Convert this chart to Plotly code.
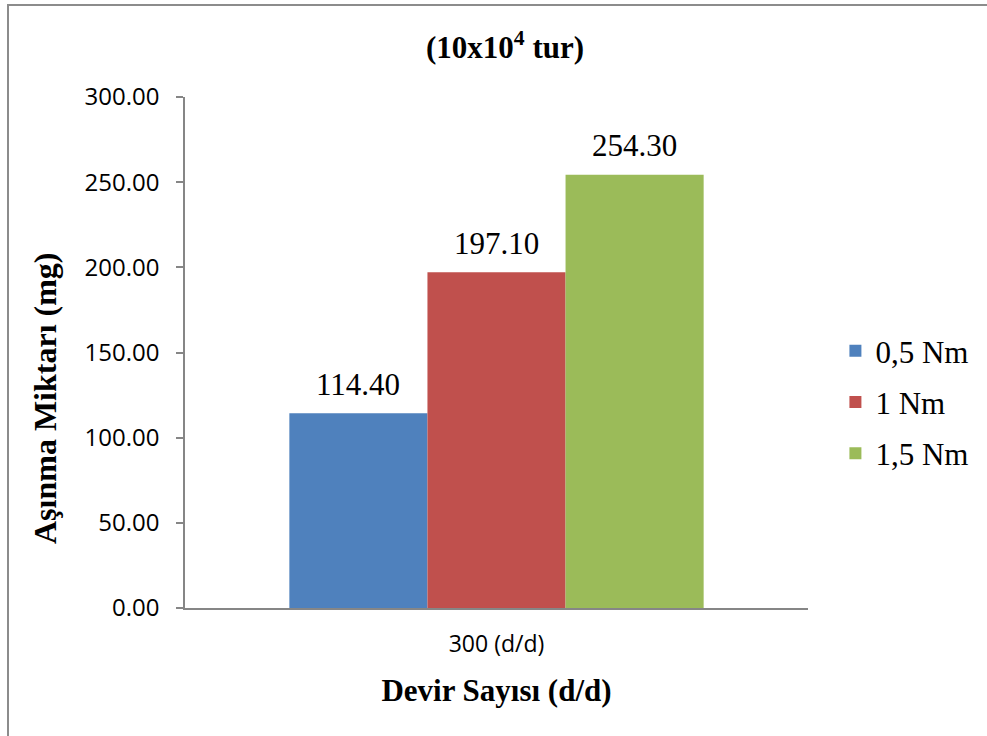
import plotly.graph_objects as go

# Wear amount (mg) at 300 rpm for three torque levels
categories = ["300 (d/d)"]
series_names = ["0,5 Nm", "1 Nm", "1,5 Nm"]
series_values = [[114.40], [197.10], [254.30]]
series_colors = ["#4F81BD", "#C0504D", "#9BBB59"]
y_ticks = [0, 50, 100, 150, 200, 250, 300]

SERIF = "Liberation Serif, Times New Roman, serif"
SANS = "Open Sans, Liberation Sans, sans-serif"

W, H = 987, 736
ML, MR, MT, MB = 185, 179, 97, 128
PW, PH = W - ML - MR, H - MT - MB
BARGAP = 0.335
bar_px = PW * (1 - BARGAP) / len(series_names)

fig = go.Figure()
for i, (name, vals, col) in enumerate(zip(series_names, series_values, series_colors)):
    fig.add_trace(go.Bar(
        x=categories, y=vals, name=name, legendgroup=f"g{i}",
        marker=dict(color=col, line=dict(width=0)),
    ))
    # value labels above each bar
    for cat, v in zip(categories, vals):
        fig.add_annotation(
            x=cat, y=v, text=f"{v:.2f}", showarrow=False,
            xshift=(i - (len(series_names) - 1) / 2) * bar_px,
            yshift=29, yanchor="middle",
            font=dict(family=SERIF, size=31, color="#000000"),
        )

fig.update_layout(
    width=W, height=H,
    margin=dict(l=ML, r=MR, t=MT, b=MB),
    paper_bgcolor="white", plot_bgcolor="white",
    barmode="group", bargap=BARGAP, bargroupgap=0,
    title=dict(text="<b>(10x10<sup>4</sup> tur)</b>",
               font=dict(family=SERIF, size=31, color="#000000"),
               x=505 / W, xref="container", xanchor="center",
               y=1 - 47 / H, yref="container", yanchor="middle"),
    legend=dict(x=1.044, xanchor="left", y=0.403, yanchor="middle",
                font=dict(family=SERIF, size=31, color="#000000"),
                tracegroupgap=8, bgcolor="rgba(0,0,0,0)"),
    showlegend=True,
)

fig.update_yaxes(
    range=[0, 300], tickvals=y_ticks, tickformat=".2f",
    showgrid=False, zeroline=False,
    showline=True, linecolor="#868686", linewidth=1.5,
    ticks="outside", ticklen=7, tickcolor="#868686", tickwidth=1.5,
    ticklabelstandoff=12,
    tickfont=dict(family=SANS, size=24, color="#000000"),
)
fig.update_xaxes(
    showgrid=False, zeroline=False,
    showline=True, linecolor="#868686", linewidth=2,
    ticks="", ticklabelstandoff=14,
    tickfont=dict(family=SANS, size=23, color="#000000"),
    title=dict(text="<b>Devir Sayısı (d/d)</b>",
               font=dict(family=SERIF, size=31, color="#000000"),
               standoff=22),
)

# y-axis title
fig.add_annotation(
    xref="paper", yref="paper", x=(45 - ML) / PW, y=(H - MB - 398) / PH,
    text="<b>Aşınma Miktarı (mg)</b>", textangle=-90, showarrow=False,
    xanchor="center", yanchor="middle",
    font=dict(family=SERIF, size=32, color="#000000"),
)

# Outer chart frame
fig.add_shape(type="rect", xref="paper", yref="paper",
              x0=(8 - ML) / PW, x1=1.5, y0=-0.5, y1=(H - MB - 5) / PH,
              line=dict(color="#8C8C8C", width=2), fillcolor="rgba(0,0,0,0)",
              layer="below")

fig.write_html("out.html")
